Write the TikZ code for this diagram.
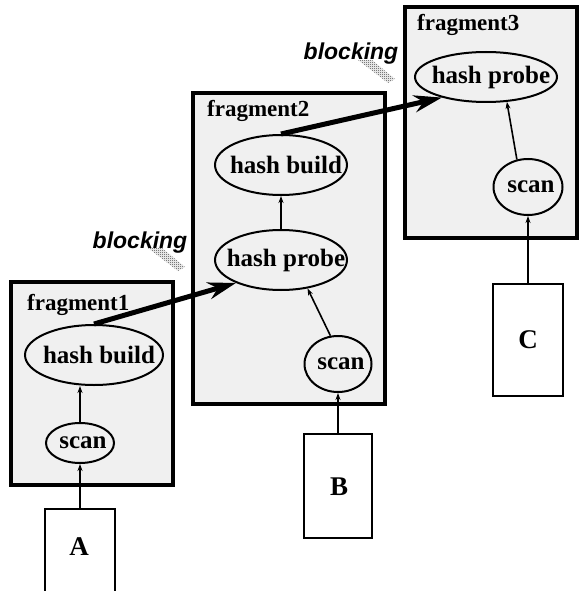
\documentclass[tikz,border=0pt]{standalone}
\usepackage{fontspec}
\setmainfont{Liberation Serif}
\newfontfamily\blockfont{Liberation Sans}
\usetikzlibrary{shapes.geometric,patterns,arrows.meta}

% fine checkerboard used for the halftone shadows under "blocking"
\pgfdeclarepatternformonly{halfdots}{\pgfpointorigin}{\pgfpoint{2pt}{2pt}}{\pgfpoint{2pt}{2pt}}{%
  \pgfpathrectangle{\pgfpointorigin}{\pgfpoint{1pt}{1pt}}%
  \pgfpathrectangle{\pgfpoint{1pt}{1pt}}{\pgfpoint{1pt}{1pt}}%
  \pgfusepath{fill}}

\begin{document}
\begin{tikzpicture}[x=1pt,y=-1pt,
  fragbox/.style={draw=black, line width=3.5pt, fill=black!6, inner sep=0pt},
  fraglabel/.style={anchor=base west, inner sep=0pt, font=\fontsize{23}{25}\selectfont\bfseries},
  opnode/.style={ellipse, draw, line width=2pt, inner sep=0pt},
  optext/.style={inner sep=0pt, xshift=5pt, font=\fontsize{25}{27}\selectfont\bfseries},
  relbox/.style={draw, line width=2pt, fill=white, inner sep=0pt},
  relname/.style={inner sep=0pt, font=\fontsize{27}{29}\selectfont\bfseries},
  flow/.style={-{Stealth[length=7pt,width=5pt]}, line width=1.6pt},
  blockarrow/.style={-{Stealth[length=28pt,width=17pt]}, line width=5pt},
  blocklabel/.style={inner sep=0pt, font=\blockfont\bfseries\itshape\fontsize{23}{25}\selectfont},
  halftone/.style={pattern=halfdots, pattern color=black!80}]

\useasboundingbox (0,0) rectangle (579,591);
\clip (0,0) rectangle (579,591);

% pipeline fragments
\node[fragbox, minimum width=162pt, minimum height=203pt] (frag1) at (92,383.5) {};
\node[fragbox, minimum width=192pt, minimum height=311pt] (frag2) at (289,248.5) {};
\node[fragbox, minimum width=172pt, minimum height=231pt] (frag3) at (491,122.5) {};

\node[fraglabel] (lab1) at (27,310) {fragment1};
\node[fraglabel] (lab2) at (207,117) {fragment2};
\node[fraglabel] (lab3) at (417,31) {fragment3};

% operators
\node[opnode, minimum width=138pt, minimum height=60pt,
      label={[optext]center:hash build}] (hb1) at (94,355) {};
\node[opnode, minimum width=68pt, minimum height=40pt,
      label={[optext, xshift=-2pt]center:scan}] (sc1) at (80,443) {};
\node[opnode, minimum width=132pt, minimum height=60pt,
      label={[optext]center:hash build}] (hb2) at (281,165) {};
\node[opnode, minimum width=132pt, minimum height=60pt,
      label={[optext]center:hash probe}] (hp2) at (281,260) {};
\node[opnode, minimum width=67pt, minimum height=56pt,
      label={[optext, xshift=-2pt]center:scan}] (sc2) at (338,364) {};
\node[opnode, minimum width=142pt, minimum height=50pt,
      label={[optext]center:hash probe}] (hp3) at (486,77) {};
\node[opnode, minimum width=69pt, minimum height=56pt,
      label={[optext, xshift=-2pt]center:scan}] (sc3) at (528,187) {};

% base relations
\node[relbox, anchor=north, minimum width=70pt, minimum height=100pt] (relA) at (80,508) {};
\node[relbox, anchor=north, minimum width=68pt, minimum height=104pt] (relB) at (338,433) {};
\node[relbox, anchor=north, minimum width=70pt, minimum height=112pt] (relC) at (528,283) {};
\node[relname] (nameA) at (79,547) {A};
\node[relname] (nameB) at (339,487) {B};
\node[relname] (nameC) at (528,340) {C};

% data flow inside fragments
\draw[flow] (relA.north) -- (sc1.south);
\draw[flow] (sc1.north) -- (sc1.north |- hb1.south);
\draw[flow] (relB.north) -- (sc2.south);
\draw[flow] (sc2.105) -- (hp2.-47);
\draw[flow] (hp2.north) -- (hb2.south);
\draw[flow] (relC.north) -- (sc3.south);
\draw[flow] (sc3.112) -- (hp3.-50);

% blocking edges between fragments
\draw[blockarrow] (hb1.north) -- (hp2.207);
\draw[blockarrow] (hb2.north) -- (hp3.205);

\fill[halftone] (148,248) -- (162,248) -- (185,267) -- (178,271) -- cycle;
\fill[halftone] (358,60) -- (372,60) -- (395,79) -- (388,83) -- cycle;
\node[blocklabel] (blk1) at (140,243) {blocking};
\node[blocklabel] (blk2) at (351,54) {blocking};
\end{tikzpicture}
\end{document}
